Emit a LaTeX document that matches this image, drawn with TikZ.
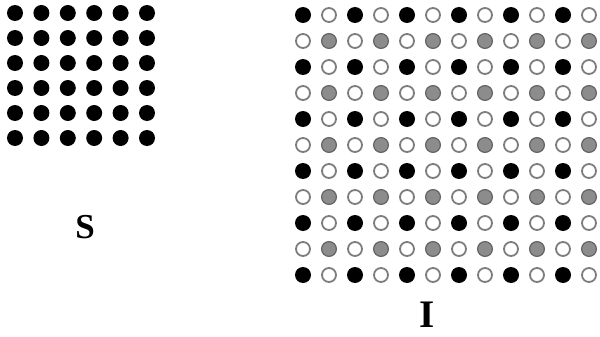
\documentclass[tikz,border=0pt]{standalone}
\usepackage{fontspec}
\setmainfont{Liberation Serif}
\definecolor{DotClr}{rgb}{0,0,0}
\definecolor{RimClr}{RGB}{125,125,125}
\definecolor{GrayClr}{RGB}{140,140,140}

\begin{document}
\begin{tikzpicture}[x=1pt,y=-1pt]
\useasboundingbox (0,0) rectangle (600,337);
\tikzset{black dot/.style={fill=DotClr},
  open dot/.style={draw=RimClr,line width=1.8pt,fill=white},
  gray dot/.style={draw=RimClr!80!black,line width=1.2pt,fill=GrayClr}}

% left lattice S
\foreach \i in {0,...,5}{
  \foreach \j in {0,...,5}{
    \fill[black dot] (15+26.4*\i,13+25*\j) circle (8pt);
  }
}

% right lattice I
\foreach \j in {0,2,...,10}{
  \foreach \i in {0,2,...,10}
    \fill[black dot] (303+26*\i,15+26*\j) circle (8pt);
  \foreach \i in {1,3,...,11}
    \filldraw[open dot] (303+26*\i,15+26*\j) circle (7pt);
}
\foreach \j in {1,3,...,9}{
  \foreach \i in {0,2,...,10}
    \filldraw[open dot] (303+26*\i,15+26*\j) circle (7pt);
  \foreach \i in {1,3,...,11}
    \filldraw[gray dot] (303+26*\i,15+26*\j) circle (7.4pt);
}

\node[font=\fontsize{35}{35}\selectfont\bfseries] (lblS) at (85,227) {S};
\node[font=\fontsize{39}{39}\selectfont\bfseries] (lblI) at (427,315) {I};
\end{tikzpicture}
\end{document}
